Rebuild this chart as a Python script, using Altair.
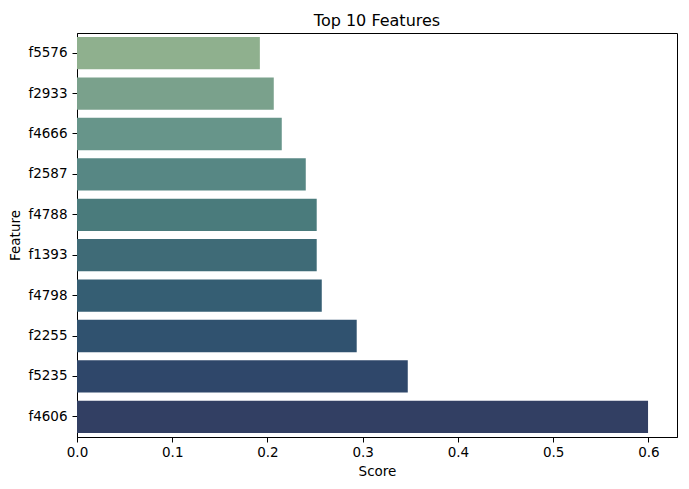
import altair as alt
import pandas as pd

features = ["f5576", "f2933", "f4666", "f2587", "f4788", "f1393", "f4798", "f2255", "f5235", "f4606"]
scores = [0.192, 0.2066, 0.215, 0.2402, 0.2517, 0.2517, 0.257, 0.2937, 0.3473, 0.5996]
colors = ["#8fb08e", "#7aa18c", "#67958a", "#578784", "#4a7b7c",
          "#3f6b77", "#355e73", "#30526f", "#2f476a", "#323f63"]
x_ticks = [0.0, 0.1, 0.2, 0.3, 0.4, 0.5, 0.6]

df = pd.DataFrame({"Feature": features, "Score": scores})

FONT = "DejaVu Sans"

chart = alt.Chart(df).mark_bar().encode(
    x=alt.X("Score:Q",
            scale=alt.Scale(domain=[0, 0.63], nice=False, zero=True),
            axis=alt.Axis(values=x_ticks, format=".1f", title="Score", grid=False,
                          labelFlush=False, labelPadding=3, titlePadding=6)),
    y=alt.Y("Feature:N", sort=features,
            scale=alt.Scale(paddingInner=0.2, paddingOuter=0.1),
            axis=alt.Axis(title="Feature", grid=False, labelPadding=5, titlePadding=5)),
    color=alt.Color("Feature:N", scale=alt.Scale(domain=features, range=colors), legend=None),
).properties(
    width=600,
    height=404,
    title=alt.TitleParams("Top 10 Features", fontSize=16, font=FONT, fontWeight="normal",
                          color="black", offset=8, anchor="middle", baseline="alphabetic",
                          dy=17),
    autosize=alt.AutoSizeParams(type="none"),
    padding={"left": 69, "top": 25, "right": 4, "bottom": 52},
).configure_view(
    stroke="black", strokeWidth=1
).configure_axis(
    labelFont=FONT, titleFont=FONT, labelFontSize=13.5, titleFontSize=13.5,
    labelColor="black", titleColor="black", titleFontWeight="normal",
    domainColor="black", tickColor="black", tickSize=5, tickWidth=1, domainWidth=1,
)

chart.save("out.html", embed_options={"renderer": "svg", "actions": False})
